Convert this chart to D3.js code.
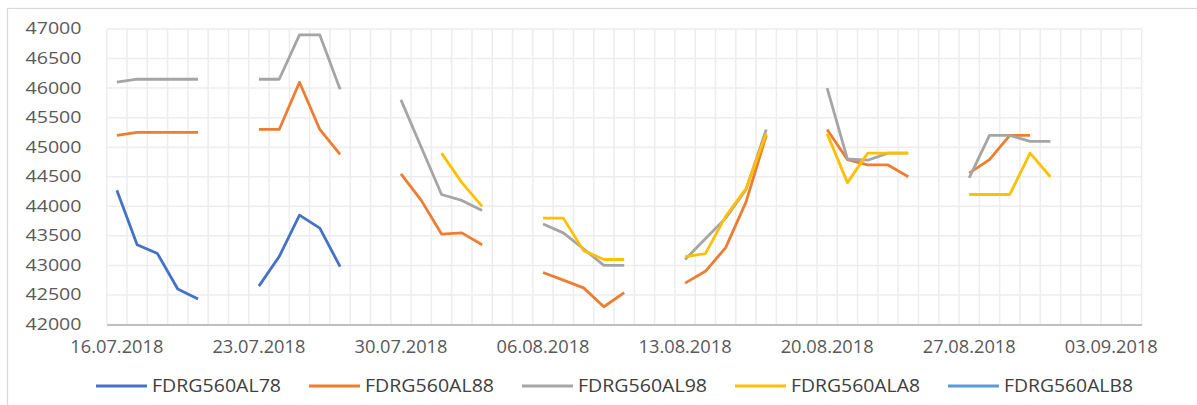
<!DOCTYPE html>
<html>
<head>
<meta charset="utf-8">
<script src="https://cdn.jsdelivr.net/npm/d3@7"></script>
<style>
  body { margin: 0; background: #fff; }
  svg { display: block; }
  text { font-family: "Open Sans", "Liberation Sans", sans-serif; fill: #595959; }
</style>
</head>
<body>
<div id="chart"></div>
<script>
// trading days (weekdays only, gaps on weekends)
var dates = [
  "16.07.2018", "17.07.2018", "18.07.2018", "19.07.2018", "20.07.2018",
  "23.07.2018", "24.07.2018", "25.07.2018", "26.07.2018", "27.07.2018",
  "30.07.2018", "31.07.2018", "01.08.2018", "02.08.2018", "03.08.2018",
  "06.08.2018", "07.08.2018", "08.08.2018", "09.08.2018", "10.08.2018",
  "13.08.2018", "14.08.2018", "15.08.2018", "16.08.2018", "17.08.2018",
  "20.08.2018", "21.08.2018", "22.08.2018", "23.08.2018", "24.08.2018",
  "27.08.2018", "28.08.2018", "29.08.2018", "30.08.2018", "31.08.2018"
];

var al78 = [44270, 43350, 43200, 42600, 42430,
            42650, 43150, 43850, 43630, 42980,
            null, null, null, null, null,
            null, null, null, null, null,
            null, null, null, null, null,
            null, null, null, null, null,
            null, null, null, null, null];

var al88 = [45200, 45250, 45250, 45250, 45250,
            45300, 45300, 46100, 45300, 44880,
            44550, 44100, 43530, 43550, 43350,
            42880, 42750, 42620, 42300, 42540,
            42700, 42900, 43300, 44070, 45200,
            45300, 44790, 44700, 44700, 44500,
            44560, 44790, 45200, 45200, null];

var al98 = [46100, 46150, 46150, 46150, 46150,
            46150, 46150, 46900, 46900, 45980,
            45800, 45000, 44200, 44100, 43930,
            43700, 43550, 43280, 43000, 43000,
            43100, 43450, 43800, 44280, 45300,
            46000, 44800, 44780, 44900, 44900,
            44480, 45200, 45200, 45100, 45100];

var ala8 = [null, null, null, null, null,
            null, null, null, null, null,
            null, null, 44900, 44400, 44000,
            43800, 43800, 43250, 43100, 43100,
            43150, 43200, 43830, 44300, 45230,
            45230, 44400, 44900, 44900, 44900,
            44200, 44200, 44200, 44900, 44500];

var alb8 = dates.map(function () { return null; });

var seriesNames = ["FDRG560AL78", "FDRG560AL88", "FDRG560AL98", "FDRG560ALA8", "FDRG560ALB8"];
var seriesValues = [al78, al88, al98, ala8, alb8];
var seriesColors = ["#4472C4", "#ED7D31", "#A5A5A5", "#FFC000", "#5B9BD5"];

var xTickLabels = ["16.07.2018", "23.07.2018", "30.07.2018", "06.08.2018",
                   "13.08.2018", "20.08.2018", "27.08.2018", "03.09.2018"];
var yTicks = [42000, 42500, 43000, 43500, 44000, 44500, 45000, 45500, 46000, 46500, 47000];

var W = 1197, H = 405;
var parse = d3.timeParse("%d.%m.%Y");
var fmt = d3.timeFormat("%d.%m.%Y");

// date axis: one band per calendar day, 16.07 to 04.09
var allDays = d3.timeDay.range(parse("16.07.2018"), parse("05.09.2018")).map(fmt);

var x = d3.scaleBand().domain(allDays).range([106.7, 1141.7]).padding(0);
var y = d3.scaleLinear().domain([42000, 47000]).range([324.5, 29]);

var svg = d3.select("#chart").append("svg")
    .attr("width", W)
    .attr("height", H);

svg.append("rect")
    .attr("width", W).attr("height", H).attr("fill", "#fff");

// chart frame (right/bottom edges fall outside the picture)
svg.append("rect")
    .attr("x", 7.5).attr("y", 8.5)
    .attr("width", 1300).attr("height", 500)
    .attr("fill", "none")
    .attr("stroke", "#D9D9D9")
    .attr("stroke-width", 1.2);

// gridlines
var grid = svg.append("g");
grid.selectAll("line.h")
    .data(yTicks.slice(1))
    .enter().append("line")
    .attr("x1", x.range()[0]).attr("x2", x.range()[1])
    .attr("y1", function (d) { return y(d); })
    .attr("y2", function (d) { return y(d); })
    .attr("stroke", "#EDEDED").attr("stroke-width", 1.5);

var edges = allDays.map(function (d) { return x(d); }).concat([x.range()[1]]);
grid.selectAll("line.v")
    .data(edges)
    .enter().append("line")
    .attr("x1", function (d) { return d; }).attr("x2", function (d) { return d; })
    .attr("y1", y(47000)).attr("y2", y(42000))
    .attr("stroke", "#EDEDED").attr("stroke-width", 1.5);

// x axis
var xAxis = svg.append("g")
    .attr("transform", "translate(0," + y(42000) + ")")
    .call(d3.axisBottom(x).tickValues(xTickLabels).tickSize(0).tickSizeOuter(0).tickPadding(16));
xAxis.select(".domain").attr("stroke", "#BFBFBF").attr("stroke-width", 2);
xAxis.selectAll("text")
    .attr("font-size", 17.5)
    .attr("fill", "#595959")
    .attr("textLength", 93)
    .attr("lengthAdjust", "spacingAndGlyphs")
    .attr("dy", "0.35em")
    .attr("y", 22);

// y axis
var yAxis = svg.append("g")
    .attr("transform", "translate(81.5,0)")
    .call(d3.axisLeft(y).tickValues(yTicks).tickSize(0).tickPadding(0).tickFormat(d3.format("d")));
yAxis.select(".domain").remove();
yAxis.selectAll("text")
    .attr("font-size", 15.5)
    .attr("fill", "#595959")
    .attr("textLength", 56)
    .attr("lengthAdjust", "spacingAndGlyphs");

// series lines: walk every calendar day so weekends leave gaps
var line = d3.line()
    .defined(function (d) { return d.v !== null; })
    .x(function (d) { return x(d.date) + x.bandwidth() / 2; })
    .y(function (d) { return y(d.v); });

seriesValues.forEach(function (vals, i) {
    var byDate = new Map(dates.map(function (d, j) { return [d, vals[j]]; }));
    var pts = allDays.map(function (d) {
        var v = byDate.has(d) ? byDate.get(d) : null;
        return { date: d, v: v };
    });
    svg.append("path")
        .datum(pts)
        .attr("d", line)
        .attr("fill", "none")
        .attr("stroke", seriesColors[i])
        .attr("stroke-width", 2.8)
        .attr("stroke-linejoin", "round");
});

// legend
var legend = svg.append("g");
seriesNames.forEach(function (name, i) {
    var tx = 152 + i * 213;
    legend.append("line")
        .attr("x1", tx - 56).attr("x2", tx - 5)
        .attr("y1", 386).attr("y2", 386)
        .attr("stroke", seriesColors[i])
        .attr("stroke-width", 2.8);
    legend.append("text")
        .attr("x", tx).attr("y", 386)
        .attr("dy", "0.35em")
        .attr("font-size", 17.5)
        .attr("fill", "#404040")
        .style("fill", "#404040")
        .attr("textLength", 129)
        .attr("lengthAdjust", "spacingAndGlyphs")
        .text(name);
});
</script>
</body>
</html>
